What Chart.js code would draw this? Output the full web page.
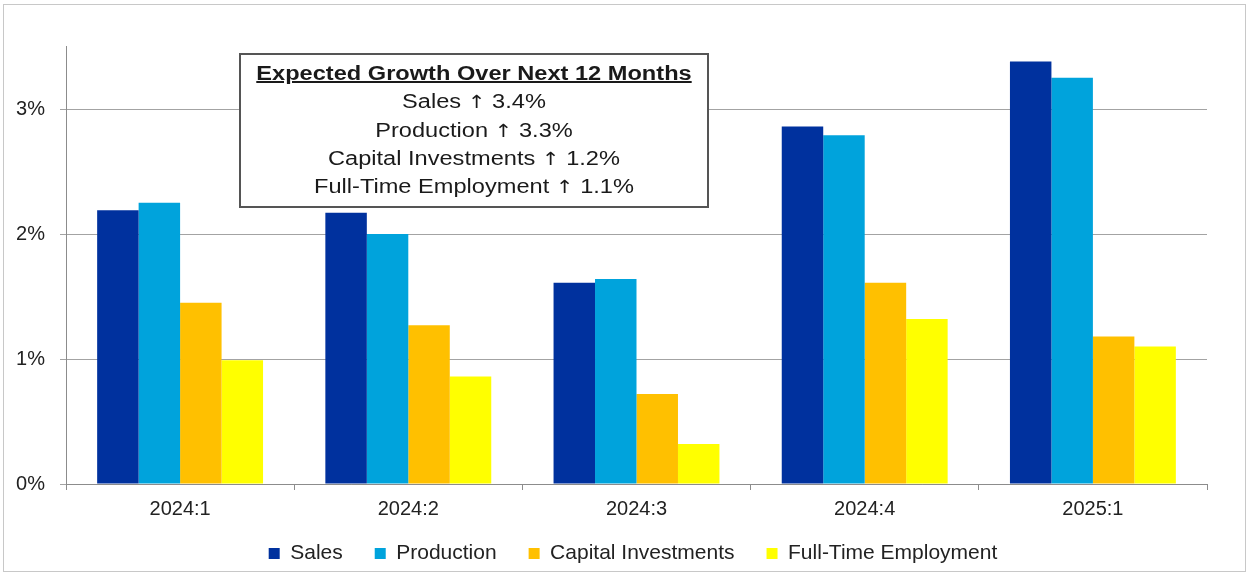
<!DOCTYPE html>
<html>
<head>
<meta charset="utf-8">
<script src="https://cdn.jsdelivr.net/npm/chart.js@4.4.1/dist/chart.umd.min.js"></script>
<style>
  html, body { margin: 0; padding: 0; background: #ffffff; }
  #wrap { position: relative; width: 1250px; height: 575px; overflow: hidden; font-family: "Liberation Sans", Arial, sans-serif; }
  #frame { position: absolute; left: 3px; top: 4px; width: 1243px; height: 568px; border: 1px solid #c8c8c8; box-sizing: border-box; pointer-events: none; }
  canvas { position: absolute; left: 0; top: 0; }
  #note { position: absolute; left: 239px; top: 53px; width: 470px; height: 155px; box-sizing: border-box;
          border: 2px solid #555; background: #fff; color: #1a1a1a; text-align: center; }
  #note .inner { position: absolute; left: 0; right: 0; top: 4px; transform: scaleX(1.18); transform-origin: 50% 0; }
  #note .line { font-size: 20px; line-height: 28.3px; height: 28.3px; white-space: nowrap; }
  #note .title { font-weight: bold; text-decoration: underline; }
  #note .arr { font-family: "DejaVu Sans", sans-serif; font-size: 18px; }
</style>
</head>
<body>
<div id="wrap">
  <canvas id="c" width="1250" height="575"></canvas>
  <div id="frame"></div>
  <div id="note"><div class="inner">
    <div class="line title">Expected Growth Over Next 12 Months</div>
    <div class="line">Sales <span class="arr">↑</span> 3.4%</div>
    <div class="line">Production <span class="arr">↑</span> 3.3%</div>
    <div class="line">Capital Investments <span class="arr">↑</span> 1.2%</div>
    <div class="line">Full-Time Employment <span class="arr">↑</span> 1.1%</div>
  </div></div>
</div>
<script>
const categories = ["2024:1", "2024:2", "2024:3", "2024:4", "2025:1"];
const sales = [2.19, 2.17, 1.61, 2.86, 3.38];
const production = [2.25, 2.00, 1.64, 2.79, 3.25];
const capitalInvestments = [1.45, 1.27, 0.72, 1.61, 1.18];
const fullTimeEmployment = [0.99, 0.86, 0.32, 1.32, 1.10];
const seriesNames = ["Sales", "Production", "Capital Investments", "Full-Time Employment"];
const seriesColors = ["#00319e", "#00a3dc", "#ffc000", "#ffff00"];
const yTicks = [0, 1, 2, 3];

const FONT = '"Liberation Sans", Arial, sans-serif';
const seriesData = [sales, production, capitalInvestments, fullTimeEmployment];

const adjustPlugin = {
  id: 'adjust',
  afterLayout(chart) {
    const lg = chart.legend;
    if (lg) { lg.left += 29.5; lg.right += 29.5; }
    const xs = chart.scales.x;
    xs.bottom += 20; xs.height += 20;
  }
};

new Chart(document.getElementById('c'), {
  type: 'bar',
  data: {
    labels: categories,
    datasets: seriesNames.map((name, i) => ({
      label: name,
      data: seriesData[i],
      backgroundColor: seriesColors[i],
      borderWidth: 0,
      barPercentage: 1.0,
      categoryPercentage: 0.727
    }))
  },
  plugins: [adjustPlugin],
  options: {
    responsive: false,
    devicePixelRatio: 1,
    animation: false,
    layout: { padding: { left: 0, right: 43, top: 46.5, bottom: 1 } },
    plugins: {
      legend: {
        position: 'bottom',
        labels: {
          boxWidth: 11, boxHeight: 11, padding: 32,
          color: '#222', font: { family: FONT, size: 21 }
        }
      },
      tooltip: { enabled: false }
    },
    scales: {
      x: {
        offset: true,
        grid: { drawOnChartArea: false, drawTicks: true, tickLength: 6, color: '#8c8c8c' },
        border: { color: '#8c8c8c', width: 1 },
        ticks: { color: '#222', font: { family: FONT, size: 20 }, padding: 7, maxRotation: 0 },
        afterFit: (s) => { s.height = 27; }
      },
      y: {
        min: 0, max: 3.5,
        grid: { color: '#a3a3a3', tickLength: 6, lineWidth: 1 },
        border: { color: '#8c8c8c', width: 1 },
        ticks: { stepSize: 1, color: '#222', font: { family: FONT, size: 20 }, padding: 15,
                 callback: (v) => v + '%' },
        afterBuildTicks: (s) => { s.ticks = yTicks.map(v => ({ value: v })); },
        afterFit: (s) => { s.width = 66; }
      }
    }
  }
});
</script>
</body>
</html>
